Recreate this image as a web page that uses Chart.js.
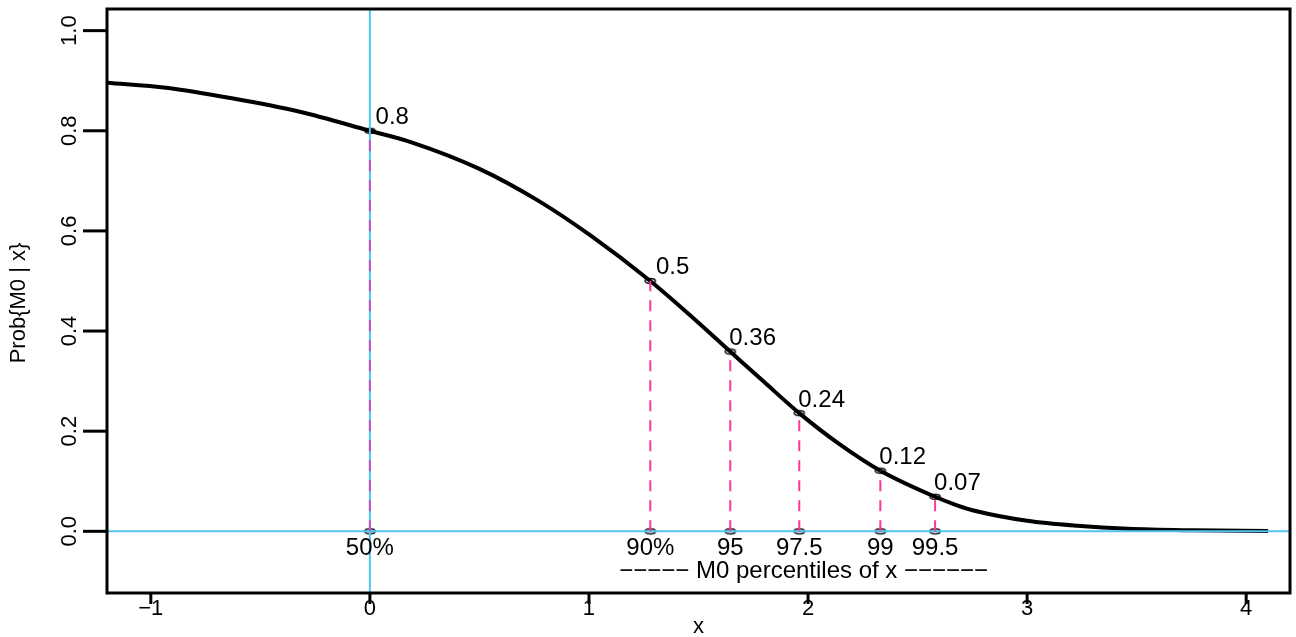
<!DOCTYPE html>
<html>
<head>
<meta charset="utf-8">
<script src="https://cdn.jsdelivr.net/npm/chart.js@4.4.1/dist/chart.umd.min.js"></script>
<style>
html,body{margin:0;padding:0;background:#fff;}
#wrap{width:1296px;height:637px;position:relative;}
</style>
</head>
<body>
<div id="wrap"><canvas id="c"></canvas></div>
<script>
// ---- data ----
const curveX = [-1.2, -0.93, -0.63, -0.32, 0, 0.19, 0.5, 0.77, 1.01, 1.28, 1.45, 1.645, 1.8, 1.96, 2.14, 2.33, 2.58, 2.68, 2.77, 3.0, 3.23, 3.46, 3.76, 4.1];
const curveY = [0.896, 0.886, 0.865, 0.838, 0.800, 0.777, 0.724, 0.660, 0.590, 0.500, 0.436, 0.359, 0.298, 0.236, 0.175, 0.121, 0.069, 0.052, 0.040, 0.021, 0.011, 0.005, 0.002, 0.0005];
const pctX = [0, 1.28, 1.645, 1.96, 2.33, 2.58];
const pctProb = [0.80, 0.50, 0.359, 0.236, 0.121, 0.069];
const probLabels = ["0.8", "0.5", "0.36", "0.24", "0.12", "0.07"];
const pctLabels = ["50%", "90%", "95", "97.5", "99", "99.5"];
const xTicks = [-1, 0, 1, 2, 3, 4];
const xTickLabels = ["\u22121", "0", "1", "2", "3", "4"];
const yTicks = [0, 0.2, 0.4, 0.6, 0.8, 1.0];
const yTickLabels = ["0.0", "0.2", "0.4", "0.6", "0.8", "1.0"];
const noteText = "\u2212\u2212\u2212\u2212\u2212 M0 percentiles of x \u2212\u2212\u2212\u2212\u2212\u2212";
const noteX = 1.98;
const xTitle = "x";
const yTitle = "Prob{M0 | x}";
const xRange = [-1.2, 4.2];
const yRange = [-0.1232, 1.0432];

// ---- styles ----
const BLUE = "#4fc6f2";
const PINK = "#ff3399";
const PURPLE = "#c050c0";
const FONT = '"Liberation Sans", Arial, Helvetica, sans-serif';
const F_TICK = 22, F_TXT = 24, F_TITLE = 22;

function ellipseMarker() {
  const c = document.createElement('canvas');
  c.width = 16; c.height = 10;
  const g = c.getContext('2d');
  g.strokeStyle = '#111';
  g.lineWidth = 1.6;
  g.beginPath();
  g.ellipse(8, 5, 5, 2.5, 0, 0, Math.PI * 2);
  g.stroke();
  return c;
}
const marker = ellipseMarker();

function seg(ctx, x1, y1, x2, y2) {
  ctx.beginPath(); ctx.moveTo(x1, y1); ctx.lineTo(x2, y2); ctx.stroke();
}

const rPlot = {
  id: 'rPlot',
  afterDatasetDraw(chart, args) {
    if (args.index !== 0) return;
    const { ctx, chartArea: a, scales: { x, y } } = chart;
    const y0 = y.getPixelForValue(0), x0 = x.getPixelForValue(0);
    ctx.save();
    ctx.lineCap = 'butt';
    ctx.strokeStyle = BLUE; ctx.lineWidth = 2;
    seg(ctx, a.left, y0, a.right, y0);
    seg(ctx, x0, a.top, x0, a.bottom);
    ctx.lineWidth = 2;
    ctx.setLineDash([11, 9]);
    pctX.forEach((v, i) => {
      const px = x.getPixelForValue(v);
      ctx.strokeStyle = v === 0 ? PURPLE : PINK;
      seg(ctx, px, y0, px, y.getPixelForValue(pctProb[i]));
    });
    ctx.restore();
  },
  afterDraw(chart) {
    const { ctx, chartArea: a, scales: { x, y } } = chart;
    const y0 = y.getPixelForValue(0);
    ctx.save();
    // box
    ctx.strokeStyle = '#000'; ctx.lineWidth = 3; ctx.lineJoin = 'miter';
    ctx.strokeRect(a.left, a.top, a.right - a.left, a.bottom - a.top);
    // x ticks
    ctx.fillStyle = '#000';
    ctx.font = F_TICK + 'px ' + FONT;
    ctx.textAlign = 'center'; ctx.textBaseline = 'alphabetic';
    xTicks.forEach((v, i) => {
      const px = x.getPixelForValue(v);
      ctx.lineWidth = 3;
      seg(ctx, px, a.bottom, px, a.bottom + 11);
      ctx.fillText(xTickLabels[i], px, a.bottom + 22);
    });
    // y ticks (rotated labels)
    yTicks.forEach((v, i) => {
      const py = y.getPixelForValue(v);
      ctx.lineWidth = 3;
      seg(ctx, a.left - 24, py, a.left, py);
      ctx.save();
      ctx.translate(a.left - 31, py);
      ctx.rotate(-Math.PI / 2);
      ctx.textAlign = 'center';
      ctx.fillText(yTickLabels[i], 0, 0);
      ctx.restore();
    });
    // axis titles
    ctx.font = F_TITLE + 'px ' + FONT;
    ctx.textAlign = 'center';
    ctx.fillText(xTitle, (a.left + a.right) / 2, 633);
    ctx.save();
    ctx.translate(25, (a.top + a.bottom) / 2 + 2);
    ctx.rotate(-Math.PI / 2);
    ctx.fillText(yTitle, 0, 0);
    ctx.restore();
    // annotations
    ctx.font = F_TXT + 'px ' + FONT;
    const sp = ctx.measureText(' ').width;
    pctX.forEach((v, i) => {
      const px = x.getPixelForValue(v);
      const py = y.getPixelForValue(pctProb[i]);
      const pad = Math.max(0, 4 - probLabels[i].length) * sp;
      ctx.textAlign = 'left';
      ctx.fillText(probLabels[i], px - 1 + pad, py - 6.5);
      ctx.textAlign = 'center';
      ctx.fillText(pctLabels[i], px, y0 + 24);
    });
    ctx.textAlign = 'center';
    ctx.fillText(noteText, x.getPixelForValue(noteX), y0 + 47);
    ctx.restore();
  }
};

const curveData = curveX.map((v, i) => ({ x: v, y: curveY[i] }));
const topPts = pctX.map((v, i) => ({ x: v, y: pctProb[i] }));
const basePts = pctX.map(v => ({ x: v, y: 0 }));

new Chart(document.getElementById('c'), {
  type: 'scatter',
  data: {
    datasets: [
      { data: curveData, showLine: true, borderColor: '#000', borderWidth: 4,
        pointRadius: 0, cubicInterpolationMode: 'monotone', fill: false },
      { data: topPts, showLine: false, pointStyle: marker, pointRadius: 5 },
      { data: basePts, showLine: false, pointStyle: marker, pointRadius: 5 }
    ]
  },
  options: {
    responsive: true,
    maintainAspectRatio: false,
    animation: false,
    events: [],
    layout: { padding: { left: 107, right: 3, top: 9, bottom: 44 } },
    plugins: { legend: { display: false }, tooltip: { enabled: false } },
    scales: {
      x: { type: 'linear', min: xRange[0], max: xRange[1], display: false },
      y: { type: 'linear', min: yRange[0], max: yRange[1], display: false }
    }
  },
  plugins: [rPlot]
});
</script>
</body>
</html>
